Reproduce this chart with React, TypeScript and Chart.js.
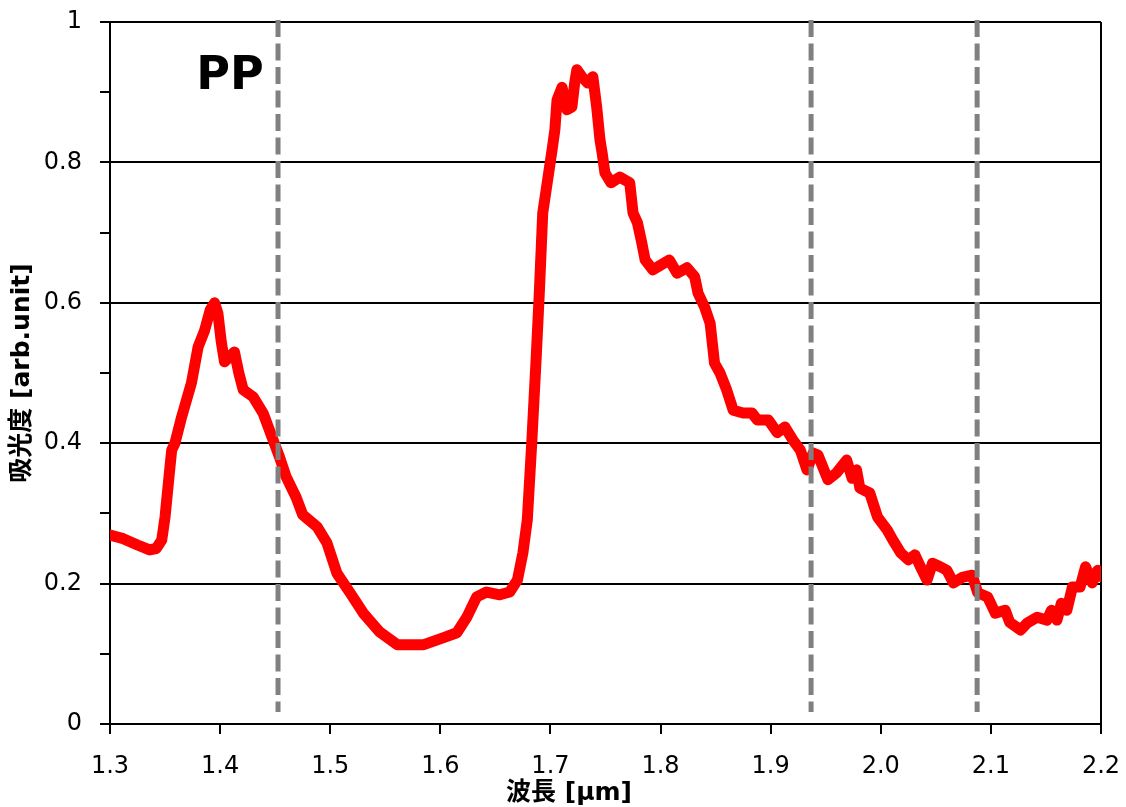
import React, { useEffect, useRef } from "react";
import { Chart, registerables } from "chart.js";

Chart.register(...registerables);

// Wavelength (µm)
const wavelengths: number[] = [
  1.300, 1.312, 1.325, 1.336, 1.342, 1.347, 1.350, 1.353, 1.356, 1.359,
  1.365, 1.374, 1.380, 1.386, 1.391, 1.395, 1.398, 1.401, 1.404, 1.408,
  1.413, 1.417, 1.421, 1.430, 1.439, 1.448, 1.454, 1.460, 1.469, 1.475,
  1.488, 1.497, 1.506, 1.518, 1.530, 1.545, 1.561, 1.585, 1.603, 1.615,
  1.624, 1.633, 1.642, 1.654, 1.663, 1.670, 1.675, 1.679, 1.683, 1.687,
  1.690, 1.693, 1.6965, 1.7015, 1.704, 1.706, 1.7105, 1.715, 1.7195, 1.722,
  1.724, 1.7285, 1.734, 1.7385, 1.742, 1.745, 1.747, 1.7495, 1.755, 1.763,
  1.772, 1.775, 1.779, 1.783, 1.786, 1.793, 1.808, 1.815, 1.824, 1.831,
  1.834, 1.840, 1.845, 1.849, 1.854, 1.860, 1.866, 1.875, 1.883, 1.888,
  1.898, 1.906, 1.913, 1.920, 1.927, 1.933, 1.9385, 1.943, 1.952, 1.960,
  1.969, 1.974, 1.978, 1.981, 1.990, 1.997, 2.006, 2.011, 2.018, 2.025,
  2.031, 2.036, 2.042, 2.047, 2.054, 2.060, 2.066, 2.074, 2.083, 2.088,
  2.097, 2.104, 2.113, 2.117, 2.127, 2.133, 2.142, 2.151, 2.155, 2.160,
  2.164, 2.169, 2.174, 2.181, 2.186, 2.192, 2.197, 2.200,
];

// Absorbance (arb. unit)
const absorbance: number[] = [
  0.269, 0.264, 0.255, 0.248, 0.250, 0.262, 0.295, 0.343, 0.390, 0.400,
  0.437, 0.486, 0.537, 0.561, 0.590, 0.600, 0.585, 0.545, 0.516, 0.522,
  0.530, 0.500, 0.476, 0.466, 0.443, 0.405, 0.380, 0.352, 0.323, 0.298,
  0.281, 0.258, 0.215, 0.187, 0.158, 0.131, 0.113, 0.113, 0.123, 0.130,
  0.152, 0.181, 0.188, 0.184, 0.188, 0.205, 0.244, 0.291, 0.400, 0.520,
  0.618, 0.728, 0.765, 0.818, 0.846, 0.889, 0.907, 0.875, 0.879, 0.913,
  0.932, 0.922, 0.913, 0.922, 0.879, 0.832, 0.813, 0.785, 0.771, 0.779,
  0.771, 0.728, 0.714, 0.685, 0.661, 0.647, 0.661, 0.642, 0.650, 0.637,
  0.614, 0.594, 0.571, 0.514, 0.500, 0.476, 0.447, 0.443, 0.443, 0.433,
  0.433, 0.415, 0.423, 0.405, 0.390, 0.362, 0.386, 0.383, 0.348, 0.358,
  0.376, 0.350, 0.362, 0.336, 0.329, 0.295, 0.276, 0.262, 0.244, 0.234,
  0.241, 0.224, 0.205, 0.229, 0.224, 0.219, 0.201, 0.209, 0.212, 0.187,
  0.181, 0.158, 0.162, 0.145, 0.134, 0.144, 0.152, 0.148, 0.162, 0.148,
  0.172, 0.162, 0.195, 0.195, 0.224, 0.201, 0.219, 0.210,
];

// Vertical dashed marker wavelengths (µm)
const markerWavelengths: number[] = [1.4526, 1.9367, 2.0875];

const sampleLabel = "PP";
const xTitle = "波長 [μm]";
const yTitle = "吸光度 [arb.unit]";

const FONT = '"DejaVu Sans", "Noto Sans CJK JP", sans-serif';

export default function App() {
  const canvasRef = useRef<HTMLCanvasElement | null>(null);

  useEffect(() => {
    document.body.style.margin = "0";
    const canvas = canvasRef.current;
    if (!canvas) return;

    const overlay = {
      id: "overlay",
      beforeDatasetsDraw(chart: any) {
        const { ctx, chartArea } = chart;
        ctx.save();
        ctx.strokeStyle = "#000";
        ctx.lineWidth = 2;
        ctx.beginPath();
        ctx.moveTo(chartArea.right, chartArea.top);
        ctx.lineTo(chartArea.right, chartArea.bottom);
        ctx.stroke();
        ctx.restore();
      },
      afterDatasetsDraw(chart: any) {
        const { ctx } = chart;
        const xs = chart.scales.x;
        const ys = chart.scales.y;
        ctx.save();
        ctx.strokeStyle = "#808080";
        ctx.lineWidth = 5;
        ctx.setLineDash([17, 6.5]);
        for (const w of markerWavelengths) {
          const px = xs.getPixelForValue(w);
          ctx.beginPath();
          ctx.moveTo(px, ys.getPixelForValue(1.003));
          ctx.lineTo(px, ys.getPixelForValue(0.017));
          ctx.stroke();
        }
        ctx.restore();
      },
      afterDraw(chart: any) {
        const { ctx, chartArea } = chart;
        const xs = chart.scales.x;
        const ys = chart.scales.y;
        ctx.save();
        ctx.fillStyle = "#000";
        ctx.font = `bold 46px ${FONT}`;
        ctx.textAlign = "center";
        ctx.textBaseline = "middle";
        ctx.fillText(sampleLabel, xs.getPixelForValue(1.409), ys.getPixelForValue(0.922));
        ctx.font = `bold 25px ${FONT}`;
        ctx.fillText(xTitle, 569, 793);
        ctx.translate(22, (chartArea.top + chartArea.bottom) / 2);
        ctx.rotate(-Math.PI / 2);
        ctx.fillText(yTitle, 0, 0);
        ctx.restore();
      },
    };

    const isMajor = (v: number) => Math.round(v * 10) % 2 === 0;

    const chart = new Chart(canvas, {
      type: "line",
      data: {
        datasets: [
          {
            data: wavelengths.map((w, i) => ({ x: w, y: absorbance[i] })),
            borderColor: "#ff0000",
            borderWidth: 11,
            pointRadius: 0,
            tension: 0,
            borderJoinStyle: "round",
            borderCapStyle: "round",
            fill: false,
          },
        ],
      },
      options: {
        animation: false,
        responsive: true,
        maintainAspectRatio: false,
        layout: { padding: { top: 22, right: 25, left: 0, bottom: 0 } },
        plugins: {
          legend: { display: false },
          tooltip: { enabled: false },
        },
        scales: {
          x: {
            type: "linear",
            min: 1.3,
            max: 2.2,
            afterFit: (scale: any) => {
              scale.height = 83;
              scale.paddingLeft = 0;
              scale.paddingRight = 0;
            },
            ticks: {
              stepSize: 0.1,
              autoSkip: false,
              maxRotation: 0,
              padding: 18,
              color: "#000",
              font: { family: FONT, size: 24 },
              callback: (v: any) => Number(v).toFixed(1),
            },
            grid: {
              drawOnChartArea: false,
              drawTicks: true,
              tickLength: 10,
              color: "#000",
              lineWidth: 2,
            },
            border: { display: true, color: "#000", width: 2 },
          },
          y: {
            type: "linear",
            min: 0,
            max: 1,
            afterFit: (scale: any) => {
              scale.width = 110;
              scale.paddingTop = 0;
              scale.paddingBottom = 0;
            },
            ticks: {
              stepSize: 0.1,
              autoSkip: false,
              padding: 18,
              color: "#000",
              font: { family: FONT, size: 24 },
              callback: (v: any) => {
                const r = Math.round(Number(v) * 10);
                if (r % 2 !== 0) return "";
                if (r === 0) return "0";
                if (r === 10) return "1";
                return (r / 10).toFixed(1);
              },
            },
            grid: {
              drawTicks: true,
              tickLength: 10,
              color: (c: any) => (c.tick && isMajor(c.tick.value) ? "#000" : "rgba(0,0,0,0)"),
              tickColor: "#000",
              lineWidth: 2,
            },
            border: { display: true, color: "#000", width: 2 },
          },
        },
      },
      plugins: [overlay],
    } as any);

    return () => {
      chart.destroy();
    };
  }, []);

  return (
    <div style={{ width: 1126, height: 807, position: "relative" }}>
      <canvas ref={canvasRef} />
    </div>
  );
}
